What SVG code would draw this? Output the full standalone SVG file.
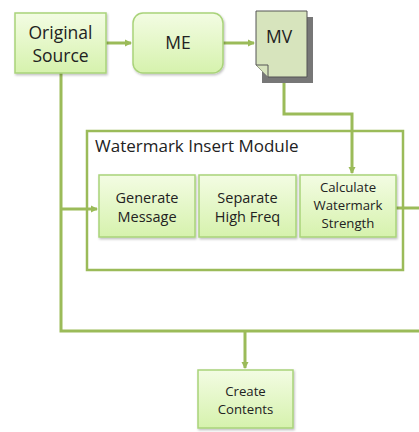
<svg xmlns="http://www.w3.org/2000/svg" width="419" height="432" viewBox="0 0 419 432">
<defs>
<linearGradient id="g" x1="0" y1="0" x2="0" y2="1">
<stop offset="0" stop-color="#f3fce3"/>
<stop offset="1" stop-color="#d6f2ad"/>
</linearGradient>
<filter id="sh" x="-10%" y="-10%" width="130%" height="130%">
<feDropShadow dx="1" dy="1.5" stdDeviation="1" flood-color="#000" flood-opacity="0.25"/>
</filter>
<marker id="ah" markerWidth="8" markerHeight="8" refX="6" refY="4" orient="auto" markerUnits="userSpaceOnUse">
<path d="M0,0.5 L7,4 L0,7.5 Z" fill="#9bbb59"/>
</marker>
</defs>
<style>
.box{fill:url(#g);stroke:#a9d37a;stroke-width:1.5;filter:url(#sh)}
.t{font-family:"Open Sans","Noto Sans",sans-serif;fill:#222;text-anchor:middle}
.big{font-size:17.5px}
.sm{font-size:14.5px}
.xs{font-size:13.2px}
.ln{fill:none;stroke:#9bbb59;stroke-width:3}
</style>
<g id="watermark-insert-module">
<rect x="87" y="131" width="316" height="139" fill="#fff" stroke="#9bbb59" stroke-width="2.5"/>
<text style="font-family:'Open Sans','Noto Sans',sans-serif;font-size:17px;fill:#222" x="95" y="152">Watermark Insert Module</text>
</g>
<g id="connectors">
<path class="ln" d="M106,43 H131" marker-end="url(#ah)"/>
<path class="ln" d="M223,43 H254" marker-end="url(#ah)"/>
<path class="ln" d="M284,80 V114 H352 V173" marker-end="url(#ah)"/>
<path class="ln" d="M61,73 V331 H419"/>
<path class="ln" d="M61,209 H97" marker-end="url(#ah)"/>
<path class="ln" d="M245,331 V368" marker-end="url(#ah)"/>
<path class="ln" d="M396,208 H419"/>
</g>
<g id="original-source">
<rect class="box" x="15" y="13" width="91" height="60"/>
<text class="t big" x="60.5" y="39">Original</text>
<text class="t big" x="60.5" y="62">Source</text>
</g>
<g id="me">
<rect class="box" x="133" y="13" width="90" height="60" rx="10"/>
<text class="t big" x="178" y="49">ME</text>
</g>
<g id="mv">
<path d="M262,17 H313 V83 H262 Z" fill="#777"/>
<path d="M256,11 H307 V77 H268 L256,65 Z" fill="#d7e4bd" stroke="#555" stroke-width="1"/>
<path d="M256,65 L268,65 L268,77" fill="#d7e4bd" stroke="#555" stroke-width="1"/>
<text class="t big" x="279" y="43">MV</text>
</g>
<g id="generate-message">
<rect class="box" x="99" y="175" width="96" height="62"/>
<text class="t sm" x="147" y="203">Generate</text>
<text class="t sm" x="147" y="222">Message</text>
</g>
<g id="separate-high-freq">
<rect class="box" x="199" y="175" width="97" height="62"/>
<text class="t sm" x="247.5" y="203">Separate</text>
<text class="t sm" x="247.5" y="222">High Freq</text>
</g>
<g id="calculate-watermark-strength">
<rect class="box" x="300" y="175" width="96" height="62"/>
<text class="t xs" x="348" y="192">Calculate</text>
<text class="t xs" x="348" y="210">Watermark</text>
<text class="t xs" x="348" y="228">Strength</text>
</g>
<g id="create-contents">
<rect class="box" x="198" y="370" width="95" height="58"/>
<text class="t xs" x="245.5" y="396">Create</text>
<text class="t xs" x="245.5" y="414">Contents</text>
</g>
</svg>
